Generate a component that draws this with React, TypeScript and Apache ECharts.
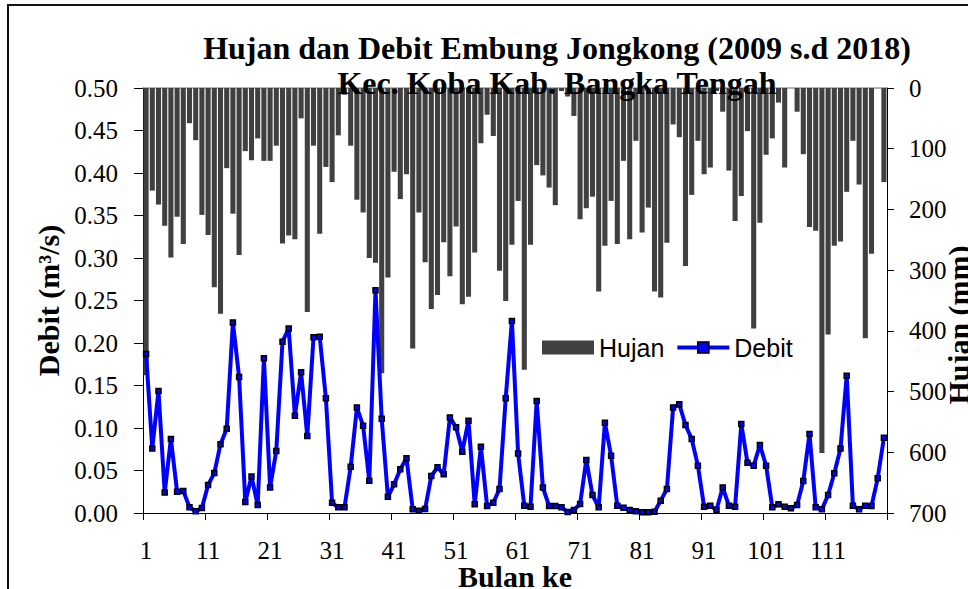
import React, { useEffect, useRef } from "react";
import * as echarts from "echarts";

// Month index 1..120 (Jan 2009 .. Dec 2018)
const months: string[] = Array.from({ length: 120 }, (_, i) => String(i + 1));

// Monthly rainfall, mm (right axis, inverted)
const hujan: number[] = [
  473, 169, 192, 227, 279, 212, 257, 58, 86, 209,
  242, 328, 372, 132, 207, 275, 104, 119, 83, 120,
  120, 95, 256, 243, 249, 50, 369, 95, 240, 130,
  155, 78, 11, 95, 184, 205, 280, 288, 470, 312,
  138, 183, 142, 429, 205, 287, 364, 341, 254, 310,
  228, 356, 344, 271, 91, 44, 79, 301, 351, 258,
  186, 464, 258, 127, 144, 164, 193, 5, 14, 46,
  216, 198, 179, 335, 260, 186, 257, 120, 249, 87,
  238, 197, 335, 345, 255, 60, 81, 293, 176, 87,
  142, 131, 5, 39, 136, 219, 178, 71, 396, 222,
  110, 83, 24, 131, 0, 39, 109, 229, 235, 601,
  406, 260, 253, 171, 87, 159, 412, 273, 0, 155,
];

// Monthly discharge, m3/s (left axis)
const debit: number[] = [
  0.187, 0.076, 0.1435, 0.024, 0.087, 0.025, 0.026, 0.0067, 0.002, 0.006,
  0.033, 0.047, 0.081, 0.099, 0.224, 0.16, 0.013, 0.043, 0.0094, 0.182,
  0.03, 0.073, 0.2016, 0.217, 0.1145, 0.1655, 0.0906, 0.2067, 0.2075, 0.135,
  0.012, 0.0067, 0.0067, 0.0545, 0.124, 0.1027, 0.038, 0.262, 0.111, 0.019,
  0.0337, 0.0514, 0.0643, 0.0043, 0.0027, 0.0047, 0.0435, 0.0537, 0.0455, 0.1125,
  0.1008, 0.0722, 0.1086, 0.0102, 0.078, 0.0082, 0.0121, 0.0282, 0.135, 0.226,
  0.07, 0.0086, 0.0075, 0.1318, 0.03, 0.0082, 0.0082, 0.0067, 0.0012, 0.0035,
  0.0106, 0.0624, 0.0212, 0.0067, 0.1063, 0.0675, 0.0086, 0.0063, 0.0035, 0.002,
  0.001, 0.001, 0.0015, 0.0145, 0.0282, 0.124, 0.128, 0.1035, 0.087, 0.0557,
  0.0075, 0.0086, 0.0035, 0.03, 0.0086, 0.0075, 0.1047, 0.0592, 0.0557, 0.08,
  0.0557, 0.0067, 0.0102, 0.0075, 0.0055, 0.0094, 0.0376, 0.093, 0.0067, 0.0043,
  0.0212, 0.0467, 0.076, 0.1616, 0.0086, 0.0043, 0.0086, 0.0082, 0.0408, 0.0886,
];

const titleLine1 = "Hujan dan Debit Embung Jongkong (2009 s.d 2018)";
const titleLine2 = "Kec. Koba Kab. Bangka Tengah";

const SERIF = '"Liberation Serif", "Times New Roman", serif';
const SANS = '"Liberation Sans", Arial, sans-serif';

const W = 968;
const H = 589;

export default function App() {
  const ref = useRef<HTMLDivElement>(null);

  useEffect(() => {
    if (!ref.current) return;
    document.body.style.margin = "0";
    document.body.style.overflow = "hidden";
    const chart = echarts.init(ref.current, null, { renderer: "svg", width: W, height: H });
    chart.setOption({
      animation: false,
      backgroundColor: "#ffffff",
      grid: {
        left: 143,
        right: 81,
        top: 88,
        bottom: 76,
        containLabel: false,
        outerBoundsMode: "none",
      },
      legend: {
        left: 537,
        top: 330,
        itemWidth: 52,
        itemHeight: 14,
        itemGap: 11,
        selectedMode: false,
        data: [
          { name: "Hujan", icon: "rect" },
          {
            name: "Debit",
            lineStyle: { width: 4, color: "#0000ff" },
            itemStyle: { color: "#0000ff", borderColor: "#000", borderWidth: 1.5 },
          },
        ],
        textStyle: { fontFamily: SANS, fontSize: 25, color: "#000" },
      },
      xAxis: [
        {
          type: "category",
          data: months,
          boundaryGap: true,
          position: "bottom",
          axisLine: { onZero: false, lineStyle: { color: "#000", width: 1 } },
          axisTick: { show: true, interval: 9, length: 7, lineStyle: { color: "#000" } },
          axisLabel: {
            interval: 9,
            fontFamily: SERIF,
            fontSize: 25,
            lineHeight: 24,
            color: "#000",
            margin: 25,
          },
          splitLine: { show: false },
          name: "Bulan ke",
          nameLocation: "middle",
          nameGap: 51,
          nameMoveOverlap: false,
          nameTextStyle: {
            fontFamily: SERIF,
            fontSize: 30,
            lineHeight: 24,
            fontWeight: "bold",
            color: "#000",
          },
        },
        {
          type: "category",
          data: months,
          position: "top",
          axisLine: { show: true, onZero: false, lineStyle: { color: "#999", width: 1.5 } },
          axisTick: { show: false },
          axisLabel: { show: false },
          splitLine: { show: false },
        },
      ],
      yAxis: [
        {
          type: "value",
          min: 0,
          max: 0.5,
          interval: 0.05,
          position: "left",
          axisLine: { show: true, lineStyle: { color: "#000", width: 1 } },
          axisTick: { show: true, length: 9, lineStyle: { color: "#000" } },
          splitLine: { show: false },
          axisLabel: {
            formatter: (v: number) => v.toFixed(2),
            fontFamily: SERIF,
            fontSize: 25,
            color: "#000",
            margin: 25,
          },
          name: "Debit (m³/s)",
          nameLocation: "middle",
          nameRotate: 90,
          nameGap: 80,
          nameMoveOverlap: false,
          nameTextStyle: { fontFamily: SERIF, fontSize: 30, fontWeight: "bold", color: "#000" },
        },
        {
          type: "value",
          min: 0,
          max: 700,
          interval: 100,
          inverse: true,
          position: "right",
          axisLine: { show: true, lineStyle: { color: "#000", width: 1 } },
          axisTick: { show: true, length: 7, lineStyle: { color: "#000" } },
          splitLine: { show: false },
          axisLabel: { fontFamily: SERIF, fontSize: 25, color: "#000", margin: 22 },
        },
      ],
      series: [
        {
          name: "Hujan",
          type: "bar",
          xAxisIndex: 0,
          yAxisIndex: 1,
          data: hujan,
          barCategoryGap: "18%",
          itemStyle: { color: "#404040" },
        },
        {
          name: "Debit",
          type: "line",
          xAxisIndex: 0,
          yAxisIndex: 0,
          data: debit,
          symbol: "rect",
          symbolSize: 5,
          showAllSymbol: true,
          z: 3,
          lineStyle: { color: "#0000ff", width: 4 },
          itemStyle: { color: "#0000ff", borderColor: "#000", borderWidth: 1.5 },
        },
      ],
      graphic: [
        {
          type: "rect",
          z: 100,
          silent: true,
          shape: { x: 8, y: 5, width: 1000, height: 700 },
          style: { fill: "none", stroke: "#111", lineWidth: 2 },
        },
        {
          type: "text",
          z: 100,
          x: 557,
          y: 48,
          style: {
            text: titleLine1,
            font: `bold 32px ${SERIF}`,
            fill: "#000",
            align: "center",
            verticalAlign: "middle",
            textAlign: "center",
            textVerticalAlign: "middle",
          },
        },
        {
          type: "text",
          z: 100,
          x: 557,
          y: 83,
          style: {
            text: titleLine2,
            font: `bold 32px ${SERIF}`,
            fill: "#000",
            align: "center",
            verticalAlign: "middle",
            textAlign: "center",
            textVerticalAlign: "middle",
          },
        },
        {
          type: "text",
          z: 100,
          x: 958,
          y: 325,
          rotation: Math.PI / 2,
          style: {
            text: "Hujan (mm)",
            font: `bold 30px ${SERIF}`,
            fill: "#000",
            align: "center",
            verticalAlign: "middle",
            textAlign: "center",
            textVerticalAlign: "middle",
          },
        },
      ],
    });
    return () => chart.dispose();
  }, []);

  return (
    <div
      ref={ref}
      style={{ position: "absolute", left: 0, top: 0, width: W, height: H, background: "#fff" }}
    />
  );
}
